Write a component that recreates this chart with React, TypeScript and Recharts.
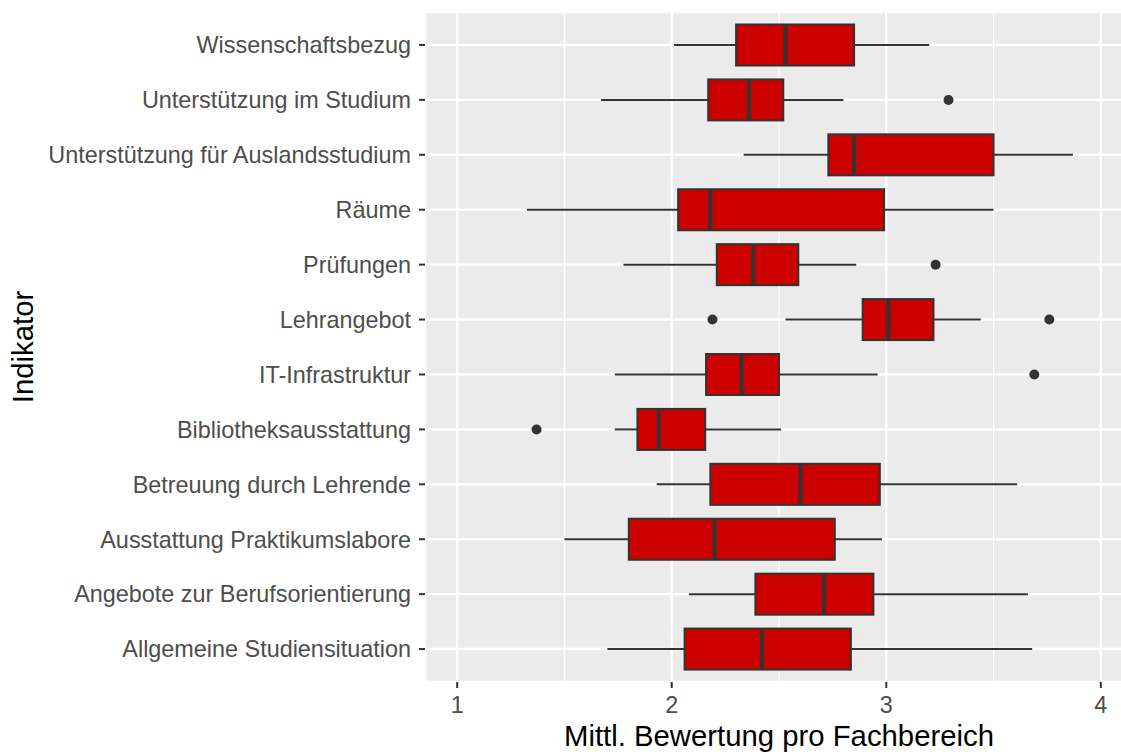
import React from 'react';
import { ComposedChart, Bar, XAxis, YAxis, CartesianGrid } from 'recharts';

const categories = [
  'Wissenschaftsbezug',
  'Unterstützung im Studium',
  'Unterstützung für Auslandsstudium',
  'Räume',
  'Prüfungen',
  'Lehrangebot',
  'IT-Infrastruktur',
  'Bibliotheksausstattung',
  'Betreuung durch Lehrende',
  'Ausstattung Praktikumslabore',
  'Angebote zur Berufsorientierung',
  'Allgemeine Studiensituation',
];
const lowerWhisker = [2.01, 1.67, 2.335, 1.325, 1.775, 2.53, 1.735, 1.735, 1.93, 1.5, 2.08, 1.7];
const quartile1 = [2.3, 2.17, 2.73, 2.03, 2.21, 2.89, 2.16, 1.84, 2.18, 1.8, 2.39, 2.06];
const medians = [2.53, 2.36, 2.85, 2.18, 2.38, 3.01, 2.325, 1.94, 2.6, 2.2, 2.71, 2.42];
const quartile3 = [2.85, 2.52, 3.5, 2.99, 2.59, 3.22, 2.5, 2.156, 2.97, 2.76, 2.94, 2.835];
const upperWhisker = [3.2, 2.8, 3.87, 3.5, 2.86, 3.44, 2.96, 2.51, 3.61, 2.98, 3.66, 3.68];
const outliers: number[][] = [[], [3.29], [], [], [3.23], [2.19, 3.76], [3.69], [1.37], [], [], [], []];

const majorTicks = [1, 2, 3, 4];
const minorTicks = [1.5, 2.5, 3.5];
const xDomain: [number, number] = [0.85, 4.15];

const data = categories.map((name, i) => ({
  name,
  range: [lowerWhisker[i], upperWhisker[i]],
  lo: lowerWhisker[i],
  q1: quartile1[i],
  med: medians[i],
  q3: quartile3[i],
  hi: upperWhisker[i],
  out: outliers[i],
}));

const FONT = '"Liberation Sans", Arial, Helvetica, sans-serif';
const LINE = '#333333';

const BoxShape = (props: any) => {
  const { x, y, width, height, payload } = props;
  const { lo, hi, q1, med, q3, out } = payload;
  const px = (v: number) => x + ((v - lo) / (hi - lo)) * width;
  const cy = y + height / 2;
  return (
    <g>
      <line x1={px(lo)} x2={px(q1)} y1={cy} y2={cy} stroke={LINE} strokeWidth={2} />
      <line x1={px(q3)} x2={px(hi)} y1={cy} y2={cy} stroke={LINE} strokeWidth={2} />
      <rect
        x={px(q1)}
        y={y}
        width={px(q3) - px(q1)}
        height={height}
        fill="#CD0000"
        stroke={LINE}
        strokeWidth={2}
      />
      <line x1={px(med)} x2={px(med)} y1={y} y2={y + height} stroke={LINE} strokeWidth={4} />
      {out.map((o: number, k: number) => (
        <circle key={k} cx={px(o)} cy={cy} r={5} fill={LINE} />
      ))}
    </g>
  );
};

const XTitle = (props: any) => {
  const { viewBox } = props;
  return (
    <text
      x={viewBox.x + viewBox.width / 2}
      y={viewBox.y + 64}
      textAnchor="middle"
      fontSize={29.3}
      fontFamily={FONT}
      fill="#000000"
    >
      Mittl. Bewertung pro Fachbereich
    </text>
  );
};

const YTitle = (props: any) => {
  const { viewBox } = props;
  const cx = viewBox.x + 33;
  const cy = viewBox.y + viewBox.height / 2;
  return (
    <text
      x={cx}
      y={cy}
      textAnchor="middle"
      fontSize={29.3}
      fontFamily={FONT}
      fill="#000000"
      transform={`rotate(-90, ${cx}, ${cy})`}
    >
      Indikator
    </text>
  );
};

export default function App() {
  return (
    <div
      style={{
        position: 'absolute',
        left: 0,
        top: 0,
        width: 1121,
        height: 754,
        overflow: 'hidden',
        background: '#ffffff',
      }}
    >
      <ComposedChart
        width={1140}
        height={754}
        data={data}
        layout="vertical"
        margin={{ top: 12, right: 7, bottom: 0, left: 0 }}
      >
        <CartesianGrid
          xAxisId="minor"
          horizontal={false}
          vertical={true}
          fill="#EBEBEB"
          stroke="#FFFFFF"
          strokeWidth={1.2}
        />
        <CartesianGrid stroke="#FFFFFF" strokeWidth={2.4} fill="none" />
        <XAxis
          type="number"
          domain={xDomain}
          ticks={majorTicks}
          interval={0}
          allowDataOverflow
          height={72}
          axisLine={false}
          stroke={LINE}
          tickLine={{ stroke: LINE, strokeWidth: 2 }}
          tickSize={6}
          tickMargin={8}
          tick={{ fill: '#4D4D4D', fontSize: 23.4, fontFamily: FONT }}
          label={<XTitle />}
        />
        <XAxis
          xAxisId="minor"
          type="number"
          domain={xDomain}
          ticks={minorTicks}
          interval={0}
          allowDataOverflow
          hide
        />
        <YAxis
          type="category"
          dataKey="name"
          width={425}
          interval={0}
          padding={{ top: 5.5, bottom: 5.5 }}
          axisLine={false}
          stroke={LINE}
          tickLine={{ stroke: LINE, strokeWidth: 2 }}
          tickSize={6}
          tickMargin={8}
          tick={{ fill: '#4D4D4D', fontSize: 23.4, fontFamily: FONT }}
          label={<YTitle />}
        />
        <Bar dataKey="range" barSize={41} shape={<BoxShape />} isAnimationActive={false} />
      </ComposedChart>
    </div>
  );
}
